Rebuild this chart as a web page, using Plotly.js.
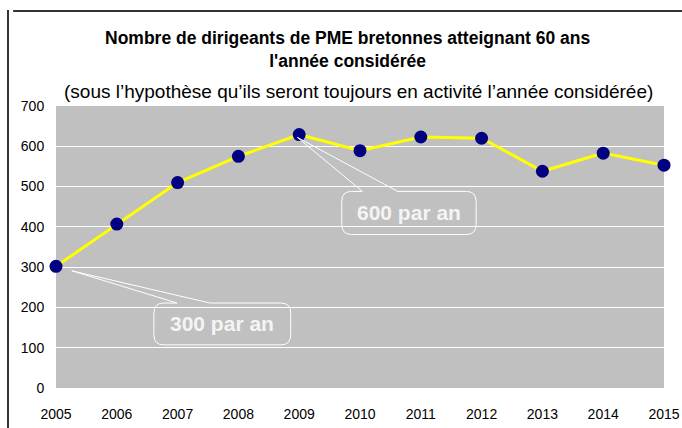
<!DOCTYPE html>
<html><head><meta charset="utf-8">
<script src="https://cdn.plot.ly/plotly-3.0.1.min.js"></script>
<style>body{margin:0;background:#fff}#c{width:682px;height:428px}</style>
</head><body><div id="c"></div>
<script>
var years = [2005, 2006, 2007, 2008, 2009, 2010, 2011, 2012, 2013, 2014, 2015];
var dirigeants = [302, 407, 510, 575, 629, 589, 623, 620, 538, 583, 553];
var yTicks = [0, 100, 200, 300, 400, 500, 600, 700];
var callouts = [
  {text: '600 par an', tip: [2008.97, 622], box: [2009.70, 2011.91, 381, 488], base: [2010.04, 2010.62]},
  {text: '300 par an', tip: [2005.26, 291], box: [2006.61, 2008.86, 107, 211], base: [2006.99, 2007.53]}
];

function calloutPath(c) {
  var x0 = c.box[0], x1 = c.box[1], y0 = c.box[2], y1 = c.box[3];
  var rx = 0.16, ry = 25;
  var p = 'M' + c.base[1] + ',' + y1 + ' L' + c.tip[0] + ',' + c.tip[1] + ' L' + c.base[0] + ',' + y1;
  p += ' L' + (x0 + rx) + ',' + y1 + ' Q' + x0 + ',' + y1 + ' ' + x0 + ',' + (y1 - ry);
  p += ' L' + x0 + ',' + (y0 + ry) + ' Q' + x0 + ',' + y0 + ' ' + (x0 + rx) + ',' + y0;
  p += ' L' + (x1 - rx) + ',' + y0 + ' Q' + x1 + ',' + y0 + ' ' + x1 + ',' + (y0 + ry);
  p += ' L' + x1 + ',' + (y1 - ry) + ' Q' + x1 + ',' + y1 + ' ' + (x1 - rx) + ',' + y1;
  p += ' Z';
  return p;
}

var shapes = callouts.map(function (c) {
  return {type: 'path', xref: 'x', yref: 'y', path: calloutPath(c),
    line: {color: '#ffffff', width: 1}, fillcolor: 'rgba(0,0,0,0)', layer: 'above'};
});
shapes.push({type: 'line', xref: 'paper', yref: 'paper', x0: -0.0705, x1: 1.1, y0: 1.337, y1: 1.337, line: {color: '#333', width: 2}});

var annotations = callouts.map(function (c) {
  return {x: (c.box[0] + c.box[1]) / 2, y: (c.box[2] + c.box[3]) / 2, xref: 'x', yref: 'y',
    text: '<b>' + c.text + '</b>', showarrow: false,
    font: {family: 'Liberation Sans, Arial, sans-serif', size: 21, color: '#f4f4f4'}};
});
annotations.push({xref: 'paper', yref: 'paper', x: 0.48, y: 1.202, yanchor: 'middle', showarrow: false,
  text: '<b>Nombre de dirigeants de PME bretonnes atteignant 60 ans<br>l\'année considérée</b>',
  font: {family: 'Liberation Sans, Arial, sans-serif', size: 17.5, color: '#000'}});
annotations.push({xref: 'paper', yref: 'paper', x: 0.498, y: 1.052, yanchor: 'middle', showarrow: false,
  text: '(sous l\u2019hypothèse qu\u2019ils seront toujours en activité l\u2019année considérée)',
  font: {family: 'Liberation Sans, Arial, sans-serif', size: 19, color: '#000'}});

var trace = {x: years, y: dirigeants, type: 'scatter', mode: 'lines+markers',
  line: {color: '#ffff00', width: 3}, marker: {color: '#000080', size: 13}, cliponaxis: false};

var layout = {
  width: 682, height: 428,
  margin: {l: 56, r: 18, t: 106, b: 40},
  paper_bgcolor: '#ffffff', plot_bgcolor: '#c0c0c0',
  showlegend: false,
  font: {family: 'Liberation Sans, Arial, sans-serif', size: 14, color: '#000'},
  xaxis: {range: [2005, 2015], tickvals: years, ticktext: years.map(String), showgrid: false,
    zeroline: false, showline: false, ticks: 'outside', ticklen: 13, tickcolor: 'rgba(0,0,0,0)', tickfont: {size: 14}},
  yaxis: {range: [0, 700], tickvals: yTicks, showgrid: true, gridcolor: '#ffffff', gridwidth: 1,
    zeroline: false, showline: false, ticks: 'outside', ticklen: 8, tickcolor: 'rgba(0,0,0,0)', tickfont: {size: 14}},
  shapes: shapes,
  annotations: annotations
};
Plotly.newPlot('c', [trace], layout, {displayModeBar: false, staticPlot: true});
</script>
<div style="position:absolute;left:7px;top:10px;width:2px;height:418px;background:#333"></div>
</body></html>
